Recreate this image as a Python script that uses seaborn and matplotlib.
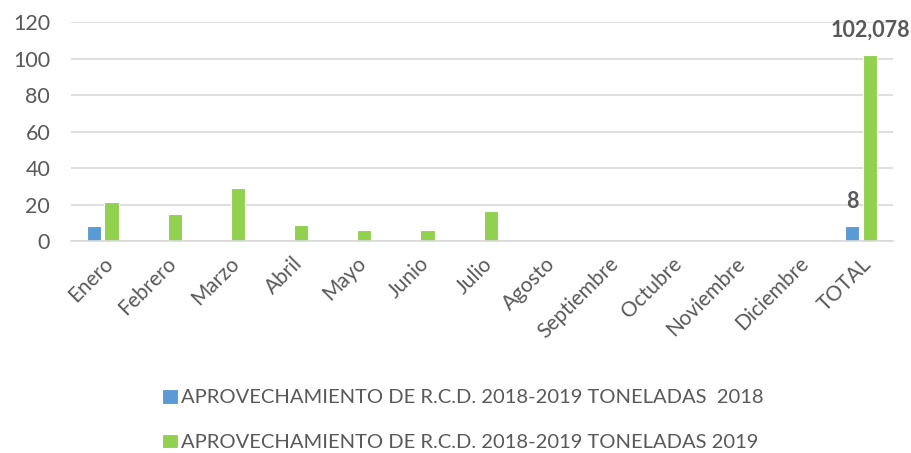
import matplotlib
matplotlib.use("Agg")
import matplotlib.pyplot as plt
import seaborn as sns
import pandas as pd

# ─── Data ───
months = ["Enero", "Febrero", "Marzo", "Abril", "Mayo", "Junio", "Julio",
          "Agosto", "Septiembre", "Octubre", "Noviembre", "Diciembre", "TOTAL"]
tons_2018 = [8, 0, 0, 0, 0, 0, 0, 0, 0, 0, 0, 0, 8]
tons_2019 = [21.2, 14.8, 29.0, 8.8, 5.9, 5.9, 16.5, 0, 0, 0, 0, 0, 102.078]
series_names = ["APROVECHAMIENTO DE R.C.D. 2018-2019 TONELADAS  2018",
                "APROVECHAMIENTO DE R.C.D. 2018-2019 TONELADAS 2019"]
total_labels = ["8", "102,078"]

df = pd.DataFrame({
    "mes": months * 2,
    "toneladas": tons_2018 + tons_2019,
    "serie": [series_names[0]] * len(months) + [series_names[1]] * len(months),
})

sns.set_style("white")
plt.rcParams["font.family"] = ["Lato", "DejaVu Sans"]
text_color = "#595959"
grid_color = "#D9D9D9"
palette = {series_names[0]: "#5B9BD5", series_names[1]: "#92D050"}

fig = plt.figure(figsize=(9.11, 4.53), dpi=100)
ax = fig.add_axes([0.078, 0.468, 0.902, 0.483])

sns.barplot(
    data=df, x="mes", y="toneladas", hue="serie", order=months,
    hue_order=series_names, palette=palette, width=0.56, gap=0.2,
    edgecolor="white", linewidth=0.8, saturation=1, ax=ax,
)

ax.set_ylim(0, 120)
ax.set_yticks(range(0, 121, 20))
ax.yaxis.grid(True, color=grid_color, linewidth=1.2)
ax.set_axisbelow(True)
for side in ["top", "right", "left"]:
    ax.spines[side].set_visible(False)
ax.spines["bottom"].set_color(grid_color)
ax.spines["bottom"].set_linewidth(1.2)
ax.set_xlabel("")
ax.set_ylabel("")
ax.tick_params(axis="y", length=0, pad=15, labelsize=15.5, labelcolor=text_color)
ax.tick_params(axis="x", length=0, pad=9, labelsize=15, labelcolor=text_color)
for lbl in ax.get_xticklabels():
    lbl.set_rotation(45)
    lbl.set_ha("right")
    lbl.set_rotation_mode("anchor")

# value labels on TOTAL bars
for cont, lab in zip(ax.containers, total_labels):
    bar = cont.patches[-1]
    ax.annotate(lab, (bar.get_x() + bar.get_width() / 2, bar.get_height()),
                xytext=(0, 18), textcoords="offset points", ha="center",
                va="center", fontsize=15.5, fontweight="bold", color=text_color)

handles, labels = ax.get_legend_handles_labels()
ax.get_legend().remove()
fig.legend(handles, labels, loc="center", bbox_to_anchor=(0.508, 0.073),
           ncol=1, frameon=False, fontsize=14.5, labelcolor=text_color,
           handlelength=0.75, handleheight=0.75, handletextpad=0.15,
           labelspacing=1.35)

plt.savefig("out.png", dpi=100)
